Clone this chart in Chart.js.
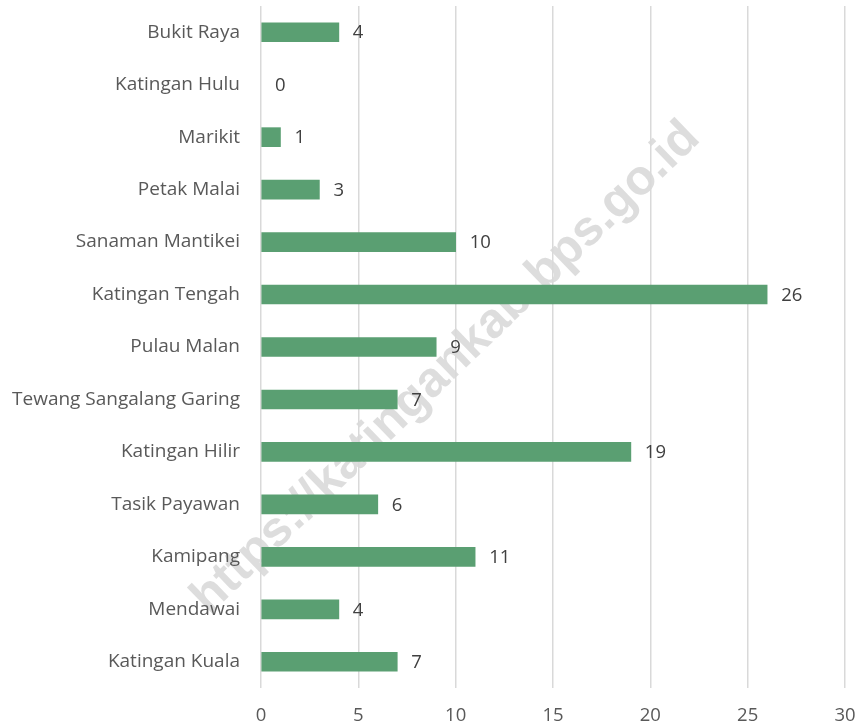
<!DOCTYPE html>
<html>
<head>
<meta charset="utf-8">
<script src="https://cdn.jsdelivr.net/npm/chart.js@4"></script>
<style>
html,body{margin:0;padding:0;background:#fff;}
#wrap{position:relative;width:862px;height:726px;}
</style>
</head>
<body>
<div id="wrap"><canvas id="c" width="862" height="726"></canvas></div>
<script>
const categories = ["Bukit Raya","Katingan Hulu","Marikit","Petak Malai","Sanaman Mantikei","Katingan Tengah","Pulau Malan","Tewang Sangalang Garing","Katingan Hilir","Tasik Payawan","Kamipang","Mendawai","Katingan Kuala"];
const values = [4,0,1,3,10,26,9,7,19,6,11,4,7];
const xTicks = [0,5,10,15,20,25,30];
const watermark = "https://katingankab.bps.go.id";

const FONT = "'Open Sans', sans-serif";
const FSIZE = 18.5;

const watermarkPlugin = {
  id: 'wm',
  beforeDraw(chart) {
    const ctx = chart.ctx;
    ctx.save();
    ctx.translate(446, 368);
    ctx.rotate(-44 * Math.PI / 180);
    ctx.font = "bold 40px 'Liberation Sans', Arial, sans-serif";
    const w = ctx.measureText(watermark).width;
    const s = 685 / w;
    ctx.font = "bold " + (40 * s).toFixed(1) + "px 'Liberation Sans', Arial, sans-serif";
    ctx.fillStyle = "rgba(200,200,200,0.62)";
    ctx.textAlign = "center";
    ctx.textBaseline = "middle";
    ctx.fillText(watermark, 0, 0);
    ctx.restore();
  }
};

const labelPlugin = {
  id: 'vals',
  afterDatasetsDraw(chart) {
    const ctx = chart.ctx;
    const meta = chart.getDatasetMeta(0);
    ctx.save();
    ctx.font = FSIZE + "px " + FONT;
    ctx.fillStyle = "#404040";
    ctx.textAlign = "left";
    ctx.textBaseline = "middle";
    meta.data.forEach((bar, i) => {
      ctx.fillText(String(values[i]), bar.x + 14, bar.y + 1);
    });
    ctx.restore();
  }
};

function noPad(s) { s.paddingTop = 0; s.paddingBottom = 0; s.paddingLeft = 0; s.paddingRight = 0; }

new Chart(document.getElementById('c'), {
  type: 'bar',
  data: {
    labels: categories,
    datasets: [{
      data: values,
      backgroundColor: values.map(v => v === 0 ? 'rgba(0,0,0,0)' : '#5A9F72'),
      borderWidth: 0,
      barThickness: 19
    }]
  },
  options: {
    indexAxis: 'y',
    responsive: false,
    animation: false,
    layout: { padding: { top: 6, right: 17, bottom: 0, left: 0 } },
    plugins: { legend: { display: false }, tooltip: { enabled: false } },
    scales: {
      x: {
        min: 0, max: 30,
        afterBuildTicks(s) { s.ticks = xTicks.map(v => ({ value: v })); },
        afterFit(s) { s.height = 38; noPad(s); },
        border: { display: false },
        grid: { color: '#d9d9d9', lineWidth: 1.5, drawTicks: false },
        ticks: { font: { family: FONT, size: FSIZE }, color: '#595959', padding: 17 }
      },
      y: {
        afterFit(s) { s.width = 261; noPad(s); },
        border: { display: false },
        grid: { display: false, drawTicks: false },
        ticks: { font: { family: FONT, size: 19 }, color: '#595959', padding: 21 }
      }
    }
  },
  plugins: [watermarkPlugin, labelPlugin]
});
</script>
</body>
</html>
